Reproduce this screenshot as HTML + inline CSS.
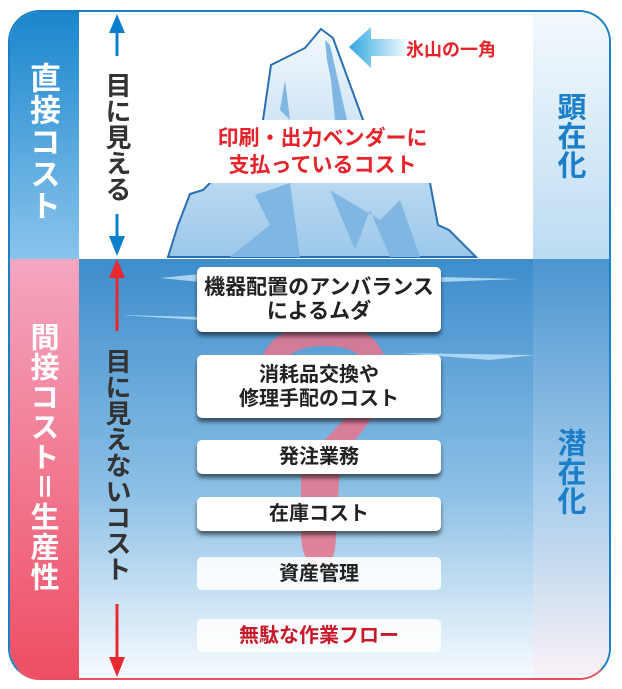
<!DOCTYPE html>
<html><head><meta charset="utf-8"><style>
*{margin:0;padding:0;box-sizing:border-box}
body{width:622px;height:689px;background:#fff;position:relative;overflow:hidden;font-family:"Liberation Sans","Noto Sans CJK JP",sans-serif;font-weight:bold}
.abs{position:absolute}
.vt{writing-mode:vertical-rl;text-orientation:upright;position:absolute;font-weight:bold}
.box{position:absolute;left:197px;width:244px;background:#fff;border-radius:5px;text-align:center;color:#222;font-size:20px;line-height:24px;display:flex;align-items:center;justify-content:center;flex-direction:column;white-space:nowrap}
.sh{box-shadow:0 4px 4px rgba(0,0,0,.55)}
</style></head><body>
<div class="abs" style="left:8px;top:10px;width:603px;height:670px;border-radius:32px;overflow:hidden;border:2px solid #1a7fc8;border-bottom-color:#e8505f">
 <div class="abs" style="left:0;top:0;width:69px;height:247px;background:linear-gradient(#1a86cc,#8ac4ec)"></div>
 <div class="abs" style="left:0;top:247px;width:69px;height:425px;background:linear-gradient(#f4a6c0,#ee4d62)"></div>
 <div class="abs" style="left:69px;top:0;width:454px;height:247px;background:#fff"></div>
 <div class="abs" style="left:523px;top:0;width:80px;height:247px;background:linear-gradient(#f4f9fd,#bcdcf2)"></div>
 <div class="abs" style="left:69px;top:247px;width:454px;height:425px;background:linear-gradient(#3e8dcc,#8cc0e6 55%,#fbfdff)"></div>
 <div class="abs" style="left:523px;top:247px;width:80px;height:425px;background:linear-gradient(#4b95d0,#a8cdec 55%,#fdf3f6)"></div>
</div>
<svg class="abs" style="left:0;top:0" width="622" height="689">
 <defs><linearGradient id="ib" x1="0" y1="0" x2="0" y2="1"><stop offset="0" stop-color="#f4f9fe"/><stop offset="1" stop-color="#9cc8ea"/></linearGradient>
 <linearGradient id="ar" x1="0" x2="1"><stop offset="0" stop-color="#2fa8e0"/><stop offset="1" stop-color="#ffffff"/></linearGradient></defs>
 <polygon points="321,29 333,38 363,120 430,183 438,225 449,230 476,257 168,257 178,225 190,194 203,190 210,183 263,120 271,65 305,48" fill="url(#ib)" stroke="#2a6fb0" stroke-width="2"/>
 <polygon points="325,40 330,45 347,120 335,120 331,80 327,60" fill="#7fb6e2"/>
 <polygon points="280,110 285,80 290,120" fill="#7fb6e2"/>
 <polygon points="255,195 290,183 300,257 230,257 270,225" fill="#7fb6e2"/>
 <polygon points="330,190 355,250 370,210 390,257 420,257 400,200 380,220" fill="#7fb6e2"/>
 <rect x="205" y="120" width="235" height="63" fill="#fff"/>
 <polygon points="349,47 371,27 371,39 410,39 410,56 371,56 371,68" fill="url(#ar)"/>
 <path d="M160 278 L200 274 L200 282Z M440 277 L520 279 L440 282Z M120 315 L200 317 L200 320Z M400 353 L535 355 L490 360Z" fill="#bfe3f7" opacity=".8"/>
 <path d="M268 380 Q270 335 325 335 Q380 335 375 380 Q372 410 330 450 L325 530 Q325 555 320 555 Q312 555 312 530 L312 450" fill="none" stroke="#e8748c" stroke-width="22" opacity=".85"/>
 <line x1="117" y1="22" x2="117" y2="56" stroke="#0b7fcb" stroke-width="3"/>
 <polygon points="109,33 117,14 125,33" fill="#0b7fcb"/>
 <line x1="117" y1="214" x2="117" y2="245" stroke="#0b7fcb" stroke-width="3"/>
 <polygon points="109,236 117,256 125,236" fill="#0b7fcb"/>
 <polygon points="109,278 117,259 125,278" fill="#e82a2e"/>
 <line x1="117" y1="275" x2="117" y2="331" stroke="#e82a2e" stroke-width="3"/>
 <line x1="117" y1="604" x2="117" y2="662" stroke="#e82a2e" stroke-width="3"/>
 <polygon points="109,657 117,677 125,657" fill="#e82a2e"/>
</svg>
<div class="vt" style="left:25px;top:62px;color:#fff;font-size:31px;line-height:34px;letter-spacing:1px">直接コスト</div>
<div class="vt" style="left:25px;top:322px;color:#fff;font-size:29px;line-height:34px;letter-spacing:1px">間接コスト＝生産性</div>
<div class="vt" style="left:102px;top:72px;color:#333;font-size:26px;line-height:30px">目に見える</div>
<div class="vt" style="left:102px;top:348px;color:#333;font-size:26px;line-height:30px">目に見えないコスト</div>
<div class="vt" style="left:552px;top:92px;color:#1a7fc8;font-size:29px;line-height:34px">顕在化</div>
<div class="vt" style="left:552px;top:428px;color:#1a7fc8;font-size:29px;line-height:34px">潜在化</div>
<div class="abs" style="left:406px;top:36px;color:#e6232a;font-size:18px">氷山の一角</div>
<div class="abs" style="left:200px;top:125px;width:245px;text-align:center;color:#e6232a;font-size:21px;line-height:27px;white-space:nowrap">印刷・出力ベンダーに<br>支払っているコスト</div>
<div class="box sh" style="top:267px;height:65px;font-size:21px">機器配置のアンバランス<br>によるムダ</div>
<div class="box sh" style="top:355px;height:63px">消耗品交換や<br>修理手配のコスト</div>
<div class="box sh" style="top:440px;height:34px">発注業務</div>
<div class="box sh" style="top:497px;height:34px">在庫コスト</div>
<div class="box" style="top:557px;height:33px;background:rgba(255,255,255,.9)">資産管理</div>
<div class="box" style="top:619px;height:33px;background:rgba(255,255,255,.85);color:#c8192a">無駄な作業フロー</div>
</body></html>
